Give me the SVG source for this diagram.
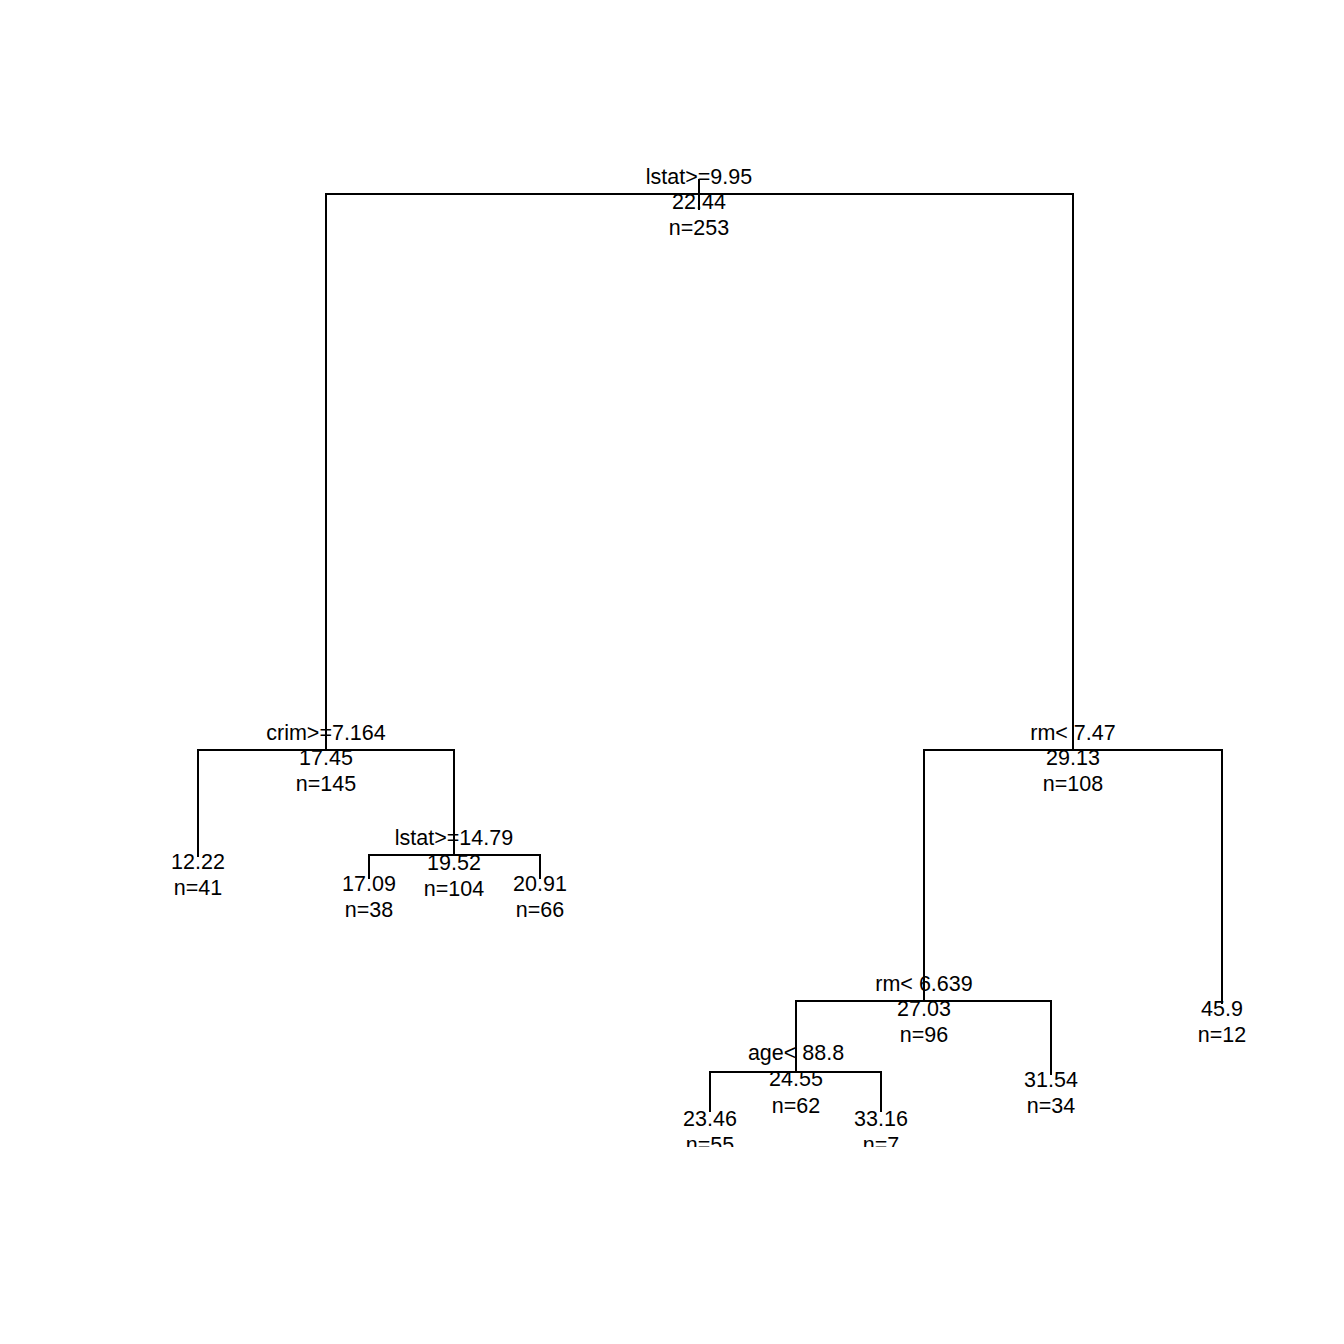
<svg xmlns="http://www.w3.org/2000/svg" width="1344" height="1344" viewBox="0 0 1344 1344">
  <style>
    .br { fill: none; stroke: #000; stroke-width: 2; stroke-linecap: butt; stroke-linejoin: miter; }
    text { font-family: "Liberation Sans", Arial, Helvetica, sans-serif; font-size: 21.5px; fill: #000; text-anchor: middle; }
  </style>
  <defs>
    <clipPath id="plotRegion">
      <rect x="0" y="0" width="1344" height="1147"/>
    </clipPath>
  </defs>
  <rect x="0" y="0" width="1344" height="1344" fill="#fff"/>
  <g clip-path="url(#plotRegion)">
    <!-- branches -->
    <g id="connectors">
      <path class="br" d="M326,750 V194 H1073 V750"/>
      <path class="br" d="M198,857 V750 H454 V855"/>
      <path class="br" d="M369,879 V855 H540 V879"/>
      <path class="br" d="M924,1001 V750 H1222 V1004"/>
      <path class="br" d="M796,1072 V1001 H1051 V1075"/>
      <path class="br" d="M710,1112 V1072 H881 V1112"/>
    </g>

    <!-- root split -->
    <g id="node-root">
      <text x="699" y="184">lstat&gt;=9.95</text>
      <text x="699" y="209">22.44</text>
      <text x="699" y="235">n=253</text>
      <line class="br" x1="699" y1="179" x2="699" y2="210"/>
    </g>

    <g id="node-crim">
      <text x="326" y="740">crim&gt;=7.164</text>
      <text x="326" y="765">17.45</text>
      <text x="326" y="791">n=145</text>
    </g>
    <g id="leaf-12-22">
      <text x="198" y="869">12.22</text>
      <text x="198" y="895">n=41</text>
    </g>
    <g id="node-lstat2">
      <text x="454" y="845">lstat&gt;=14.79</text>
      <text x="454" y="870">19.52</text>
      <text x="454" y="896">n=104</text>
    </g>
    <g id="leaf-17-09">
      <text x="369" y="891">17.09</text>
      <text x="369" y="917">n=38</text>
    </g>
    <g id="leaf-20-91">
      <text x="540" y="891">20.91</text>
      <text x="540" y="917">n=66</text>
    </g>

    <g id="node-rm1">
      <text x="1073" y="740">rm&lt; 7.47</text>
      <text x="1073" y="765">29.13</text>
      <text x="1073" y="791">n=108</text>
    </g>
    <g id="node-rm2">
      <text x="924" y="991">rm&lt; 6.639</text>
      <text x="924" y="1016">27.03</text>
      <text x="924" y="1042">n=96</text>
    </g>
    <g id="leaf-45-9">
      <text x="1222" y="1016">45.9</text>
      <text x="1222" y="1042">n=12</text>
    </g>
    <g id="node-age">
      <text x="796" y="1060">age&lt; 88.8</text>
      <text x="796" y="1086">24.55</text>
      <text x="796" y="1113">n=62</text>
    </g>
    <g id="leaf-31-54">
      <text x="1051" y="1087">31.54</text>
      <text x="1051" y="1113">n=34</text>
    </g>
    <g id="leaf-23-46">
      <text x="710" y="1126">23.46</text>
      <text x="710" y="1152">n=55</text>
    </g>
    <g id="leaf-33-16">
      <text x="881" y="1126">33.16</text>
      <text x="881" y="1152">n=7</text>
    </g>
  </g>
</svg>
